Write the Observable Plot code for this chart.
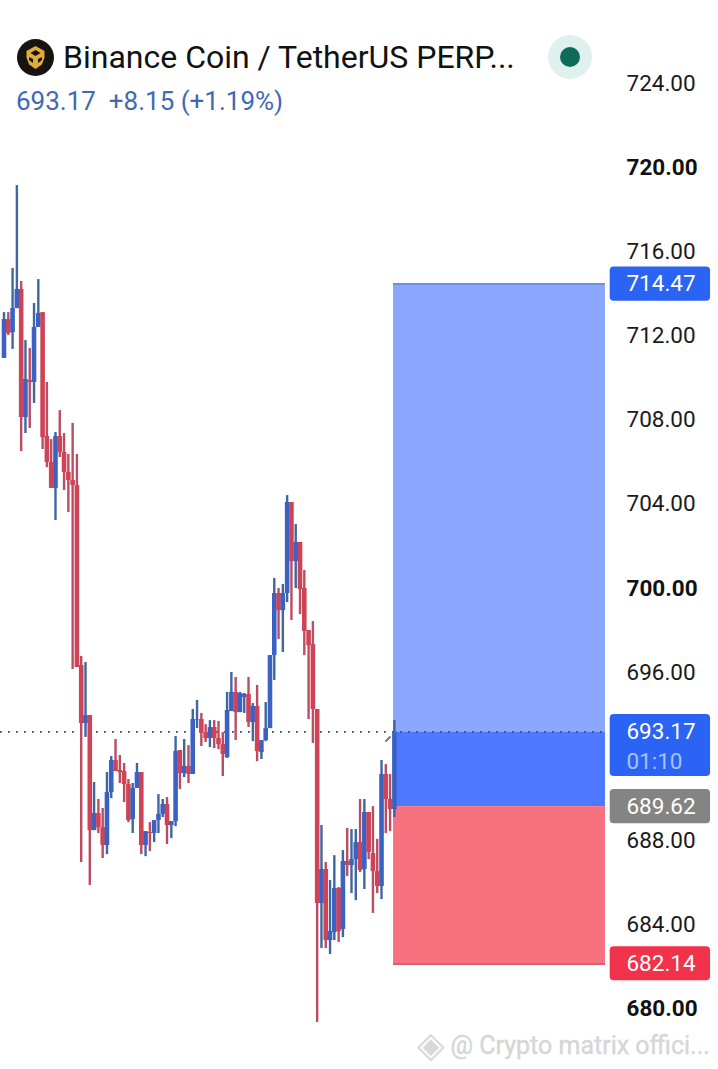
<!DOCTYPE html>
<html><head><meta charset="utf-8">
<script src="https://cdn.jsdelivr.net/npm/d3@7"></script>
<script src="https://cdn.jsdelivr.net/npm/@observablehq/plot@0.6"></script>
<style>
html,body{margin:0;padding:0;background:#fff;width:718px;height:1069px;overflow:hidden;font-family:Roboto,sans-serif}
#wrap{position:relative;width:718px;height:1069px}
#chart{position:absolute;left:0;top:0}
#head{position:absolute;left:0;top:0;width:718px;height:130px}
#title{position:absolute;left:63px;top:39px;font-size:32px;line-height:36px;color:#111;white-space:nowrap}
#sub{position:absolute;left:16px;top:86px;font-size:26px;line-height:30px;color:#4169b4;white-space:nowrap}
#logo{position:absolute;left:17px;top:39px}
#dot{position:absolute;left:548px;top:35px;width:44px;height:44px;border-radius:50%;background:#dff0ee}
#dot i{position:absolute;left:12px;top:12px;width:20px;height:20px;border-radius:50%;background:#0e6b5a}
</style></head><body>
<div id="wrap">
<div id="chart"></div>
<div id="head">
<svg id="logo" width="37" height="37" viewBox="0 0 37 37"><circle cx="18.5" cy="18.5" r="18.5" fill="#17130f"/><path d="M18.5 7l9 5v6.5l-2.6 7-6.4 4.5-6.4-4.5-2.6-7V12z" fill="#e0ac3a"/><path d="M18.5 11l5 3-5 3-5-3zM12 18l4 2v4l-4-3zM25 18l-4 2v4l4-3z" fill="#17130f"/></svg>
<div id="title">Binance Coin / TetherUS PERP...</div>
<div id="sub">693.17&nbsp;&nbsp;+8.15 (+1.19%)</div>
<div id="dot"><i></i></div>
</div>
</div>
<script>
const opens=[710.93,712.78,712.16,713.30,714.21,708.12,709.88,709.79,712.40,713.11,707.22,705.98,704.75,707.22,706.46,705.51,705.13,704.89,696.33,693.57,693.95,688.48,689.29,688.62,687.77,690.29,691.81,691.34,691.29,690.67,689.01,690.48,691.24,687.77,688.39,688.34,688.96,689.25,689.72,688.72,688.91,692.29,691.19,691.53,691.15,693.74,693.76,693.14,692.86,693.38,692.86,692.57,691.95,694.14,695.05,694.09,694.81,694.95,693.62,694.38,692.19,692.76,693.33,696.80,699.75,698.94,699.75,704.08,701.27,702.18,699.99,697.99,697.33,694.24,685.01,686.63,683.25,683.63,685.73,683.78,687.01,686.82,687.10,687.91,686.63,689.34,687.39,686.53,685.82,691.15,689.96,689.48];
const highs=[713.11,713.11,715.21,719.15,714.59,711.78,711.40,713.54,714.68,713.11,709.79,707.07,707.41,708.45,707.36,706.36,707.84,706.36,696.76,696.47,693.95,690.77,689.96,689.53,691.24,692.00,692.81,692.05,691.67,690.91,690.72,691.67,691.24,688.43,688.86,688.96,690.19,689.96,690.05,688.91,692.95,692.29,692.81,692.52,694.24,694.67,694.05,693.52,693.71,693.71,693.67,693.14,695.05,696.00,695.76,695.05,695.00,695.76,694.52,695.38,692.76,694.57,696.80,700.47,699.99,700.18,704.41,704.08,703.03,702.18,700.85,697.99,698.42,694.24,688.72,686.96,686.11,687.29,685.77,687.53,688.58,688.53,688.53,689.96,689.96,689.34,689.62,688.06,691.81,691.62,691.15,693.71];
const lows=[710.93,712.02,711.36,713.30,706.50,707.36,707.60,708.79,712.40,706.60,705.74,704.75,703.22,706.22,704.65,703.60,696.14,696.23,686.96,692.91,685.87,688.48,688.34,687.15,687.34,690.00,691.29,690.72,689.81,688.86,688.34,690.48,687.34,687.24,687.48,687.91,688.34,689.10,687.82,688.10,688.67,690.43,691.00,690.72,691.15,693.33,692.48,692.67,692.43,692.38,692.33,691.05,691.91,694.14,692.76,694.09,694.05,693.38,692.71,691.76,691.86,692.71,693.33,695.62,697.56,696.95,699.32,698.47,699.99,698.75,696.80,693.76,692.62,679.35,682.87,682.87,682.59,683.25,683.16,683.39,686.30,685.49,685.15,686.49,685.68,687.10,684.54,685.49,685.20,688.34,688.43,689.10];
const closes=[712.78,712.12,713.30,714.21,708.12,709.93,709.79,712.40,713.07,707.17,705.98,704.75,707.22,706.46,705.51,705.13,704.89,696.23,693.57,693.95,688.48,689.29,688.62,687.77,690.29,691.81,691.29,691.24,690.67,688.96,690.48,691.24,687.77,688.43,688.34,688.96,689.25,689.72,688.72,688.91,692.24,691.19,691.53,691.15,693.76,693.76,693.10,692.86,693.38,692.86,692.57,692.10,694.19,695.05,694.09,695.00,694.95,693.62,694.38,692.24,692.76,693.33,696.80,699.75,698.94,699.75,704.08,701.27,702.18,699.94,697.95,697.28,694.24,685.01,686.63,683.25,683.68,685.73,683.68,687.01,686.82,687.10,687.91,686.58,689.34,687.44,686.53,685.82,691.15,689.96,689.48,693.17];

const lastPrice=693.17, entryPrice=689.62, targetPrice=714.47, stopPrice=682.14;
const regularTicks=[724,716,712,708,704,696,688,684];
const boldTicks=[720,700,680];
const zoneStart=90.8, zoneEnd=140.2, labelLeft=141.3, labelRight=164.7, labelText=145.1;

const candles=opens.map((o,i)=>({i,o,h:highs[i],l:lows[i],c:closes[i],up:closes[i]>=o}));
const blue="#3b62c2", red="#d04356", blueWick="#3f679f", redWick="#bb4d61";
const zones=[
 {a:lastPrice,b:targetPrice,fill:"#8aa6ff"},
 {a:entryPrice,b:lastPrice,fill:"#4d78ff"},
 {a:stopPrice,b:entryPrice,fill:"#f7717f"}
];
const tags=[
 {lo:713.65,hi:715.28,fill:"#2b63f5",t:"714.47",at:714.47,color:"#fff"},
 {lo:691.05,hi:694.00,fill:"#2b63f5",t:"693.17",at:693.17,color:"#fff",second:"01:10"},
 {lo:688.81,hi:690.43,fill:"#848484",t:"689.62",at:689.62,color:"#fff"},
 {lo:681.34,hi:682.96,fill:"#f0324a",t:"682.14",at:682.14,color:"#fff"}
];

const chart=Plot.plot({
 width:718,height:1069,margin:0,
 style:{background:"transparent",fontFamily:"Roboto, sans-serif"},
 x:{type:"linear",domain:[-0.816,166.55],range:[0,718],axis:null},
 y:{type:"linear",domain:[677.12,727.95],range:[1069,0],axis:null},
 marks:[
  Plot.rect(zones,{x1:zoneStart,x2:zoneEnd,y1:"a",y2:"b",fill:"fill"}),
  Plot.ruleY([targetPrice],{x1:zoneStart,x2:zoneEnd,stroke:"#6f8fdc",strokeWidth:2}),
  Plot.ruleY([stopPrice],{x1:zoneStart,x2:zoneEnd,stroke:"#d9606f",strokeWidth:2}),
  Plot.ruleY([lastPrice],{x1:-0.816,x2:zoneEnd,stroke:"#3c4c6a",strokeWidth:1.8,strokeDasharray:"1.8,6.2"}),
  Plot.ruleX(candles,{x:"i",y1:"l",y2:"h",stroke:d=>d.up?blueWick:redWick,strokeWidth:2.4}),
  Plot.ruleX(candles,{x:"i",y1:"o",y2:"c",stroke:d=>d.up?blue:red,strokeWidth:4.6}),
  Plot.link([{x1:88.9,y1:692.71,x2:90.1,y2:692.95}],{x1:"x1",y1:"y1",x2:"x2",y2:"y2",stroke:"#6b7280",strokeWidth:2}),
  Plot.axisY(regularTicks,{anchor:"right",frameAnchor:"left",dx:626,tickSize:0,tickPadding:0,textAnchor:"start",tickFormat:d=>d.toFixed(2),fontSize:22.5,fill:"#1a1a1a",label:null}),
  Plot.axisY(boldTicks,{anchor:"right",frameAnchor:"left",dx:626,tickSize:0,tickPadding:0,textAnchor:"start",tickFormat:d=>d.toFixed(2),fontSize:22.5,fontWeight:"bold",fill:"#111",label:null}),
  Plot.rect(tags,{x1:labelLeft,x2:labelRight,y1:"lo",y2:"hi",fill:"fill",rx:4}),
  Plot.text(tags,{x:labelText,y:"at",text:"t",fill:"color",textAnchor:"start",fontSize:22.5}),
  Plot.text(tags.filter(d=>d.second),{x:labelText,y:691.73,text:"second",fill:"#a9c2ff",textAnchor:"start",fontSize:22.5}),
  Plot.text(["◈"],{x:99.6,y:678.26,text:d=>d,fill:"#d8d8d8",fontSize:36,textAnchor:"middle"}),
  Plot.text(["@ Crypto matrix offici..."],{x:104.1,y:678.26,text:d=>d,fill:"#d6d6d6",stroke:"#c8c8c8",strokeWidth:0.3,textAnchor:"start",fontSize:25})
 ]
});
document.getElementById("chart").appendChild(chart);
</script>
</body></html>
